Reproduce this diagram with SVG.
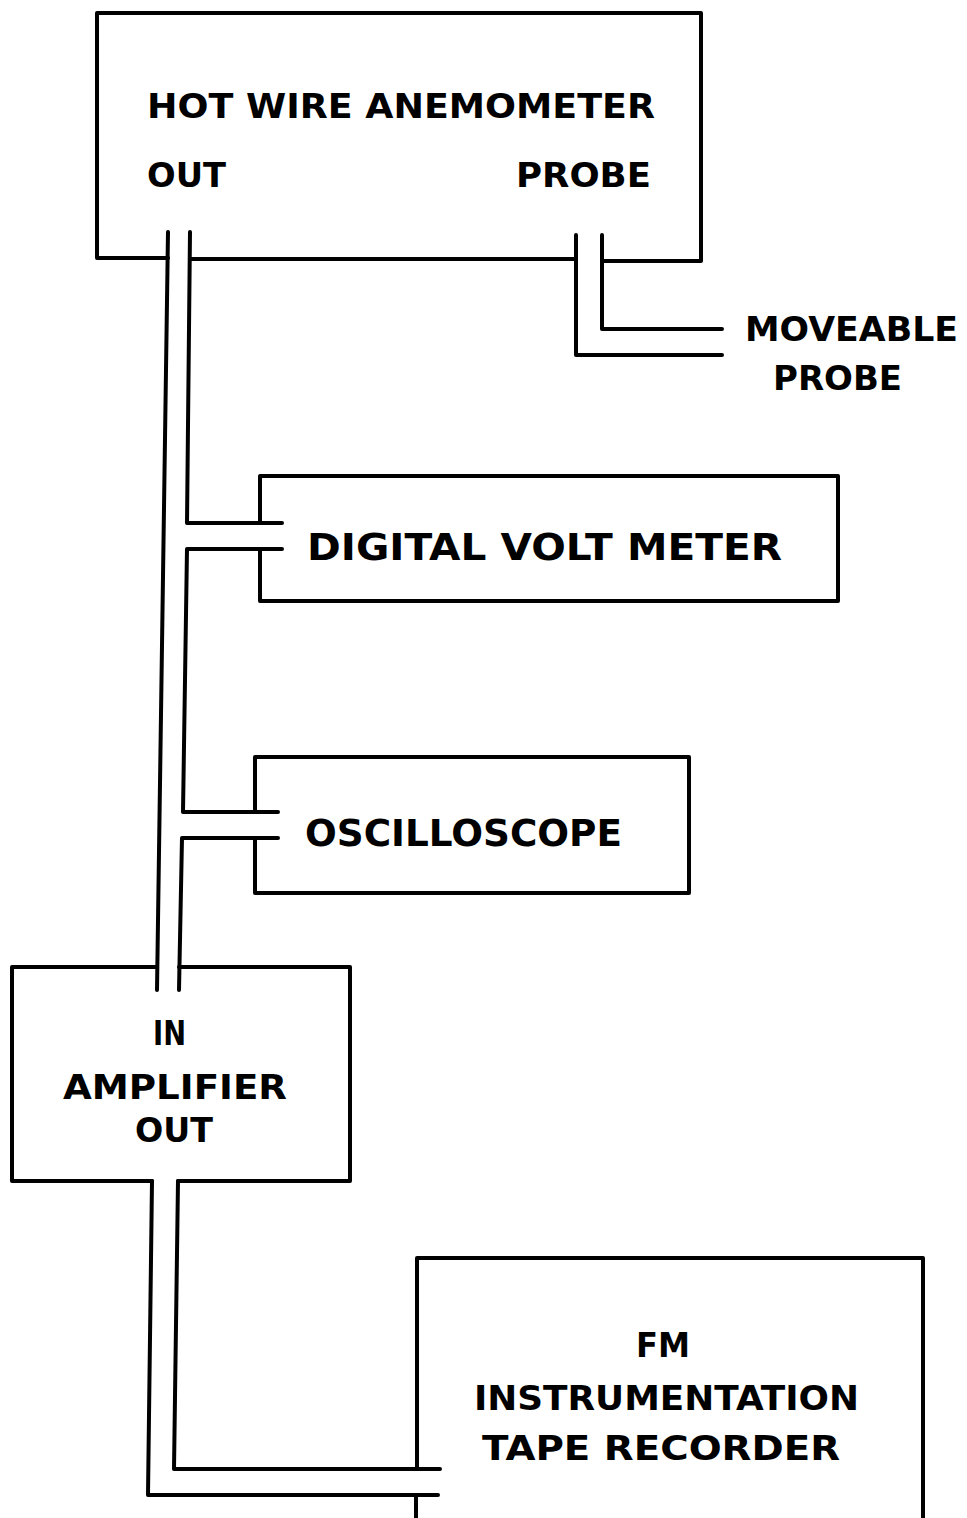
<svg xmlns="http://www.w3.org/2000/svg" width="967" height="1518" viewBox="0 0 967 1518">
<style>
.ln{fill:none;stroke:#000;stroke-width:4;stroke-linecap:round;stroke-linejoin:round}
.t{font-family:"DejaVu Sans","Liberation Sans",sans-serif;font-weight:bold;fill:#000;font-size:34px}
.tb{font-size:38px}
</style>
<rect width="967" height="1518" fill="#fff"/>
<g id="anemometer">
<path class="ln" d="M168,258 H97 V13 H701 V261 H602 M576,259 H190"/>
<text class="t" x="147" y="118" textLength="508" lengthAdjust="spacingAndGlyphs">HOT WIRE ANEMOMETER</text>
<text class="t" x="147" y="187" textLength="79" lengthAdjust="spacingAndGlyphs">OUT</text>
<text class="t" x="516" y="187" textLength="135" lengthAdjust="spacingAndGlyphs">PROBE</text>
</g>
<g id="moveable-probe">
<text class="t" x="745" y="341" textLength="213" lengthAdjust="spacingAndGlyphs">MOVEABLE</text>
<text class="t" x="773" y="390" textLength="129" lengthAdjust="spacingAndGlyphs">PROBE</text>
</g>
<g id="dvm">
<path class="ln" d="M260,523 V476 H838 V601 H260 V549"/>
<text class="t tb" x="307" y="560" textLength="475" lengthAdjust="spacingAndGlyphs">DIGITAL VOLT METER</text>
</g>
<g id="oscilloscope">
<path class="ln" d="M255,812 V757 H689 V893 H255 V838"/>
<text class="t tb" x="305" y="846" textLength="317" lengthAdjust="spacingAndGlyphs">OSCILLOSCOPE</text>
</g>
<g id="amplifier">
<path class="ln" d="M157,967 H12 V1181 H152 M178,1181 H350 V967 H179"/>
<text class="t" x="153" y="1045" textLength="33" lengthAdjust="spacingAndGlyphs">IN</text>
<text class="t" x="63" y="1099" textLength="224" lengthAdjust="spacingAndGlyphs">AMPLIFIER</text>
<text class="t" x="135" y="1142" textLength="78" lengthAdjust="spacingAndGlyphs">OUT</text>
</g>
<g id="tape-recorder">
<path class="ln" d="M417,1469 V1258 H923 V1520 M416,1495 V1520"/>
<text class="t" x="636" y="1357" textLength="54" lengthAdjust="spacingAndGlyphs">FM</text>
<text class="t" x="474" y="1410" textLength="385" lengthAdjust="spacingAndGlyphs">INSTRUMENTATION</text>
<text class="t" x="482" y="1460" textLength="358" lengthAdjust="spacingAndGlyphs">TAPE RECORDER</text>
</g>
<g id="connectors">
<path class="ln" d="M168,232 L157,990"/>
<path class="ln" d="M190,232 L187,523 H282"/>
<path class="ln" d="M282,549 H187 L183,812 H278"/>
<path class="ln" d="M278,838 H182 L179,990"/>
<path class="ln" d="M576,235 V355 H722"/>
<path class="ln" d="M602,235 V329 H722"/>
<path class="ln" d="M152,1181 L148,1495 H438"/>
<path class="ln" d="M178,1181 L174,1469 H440"/>
</g>
</svg>
